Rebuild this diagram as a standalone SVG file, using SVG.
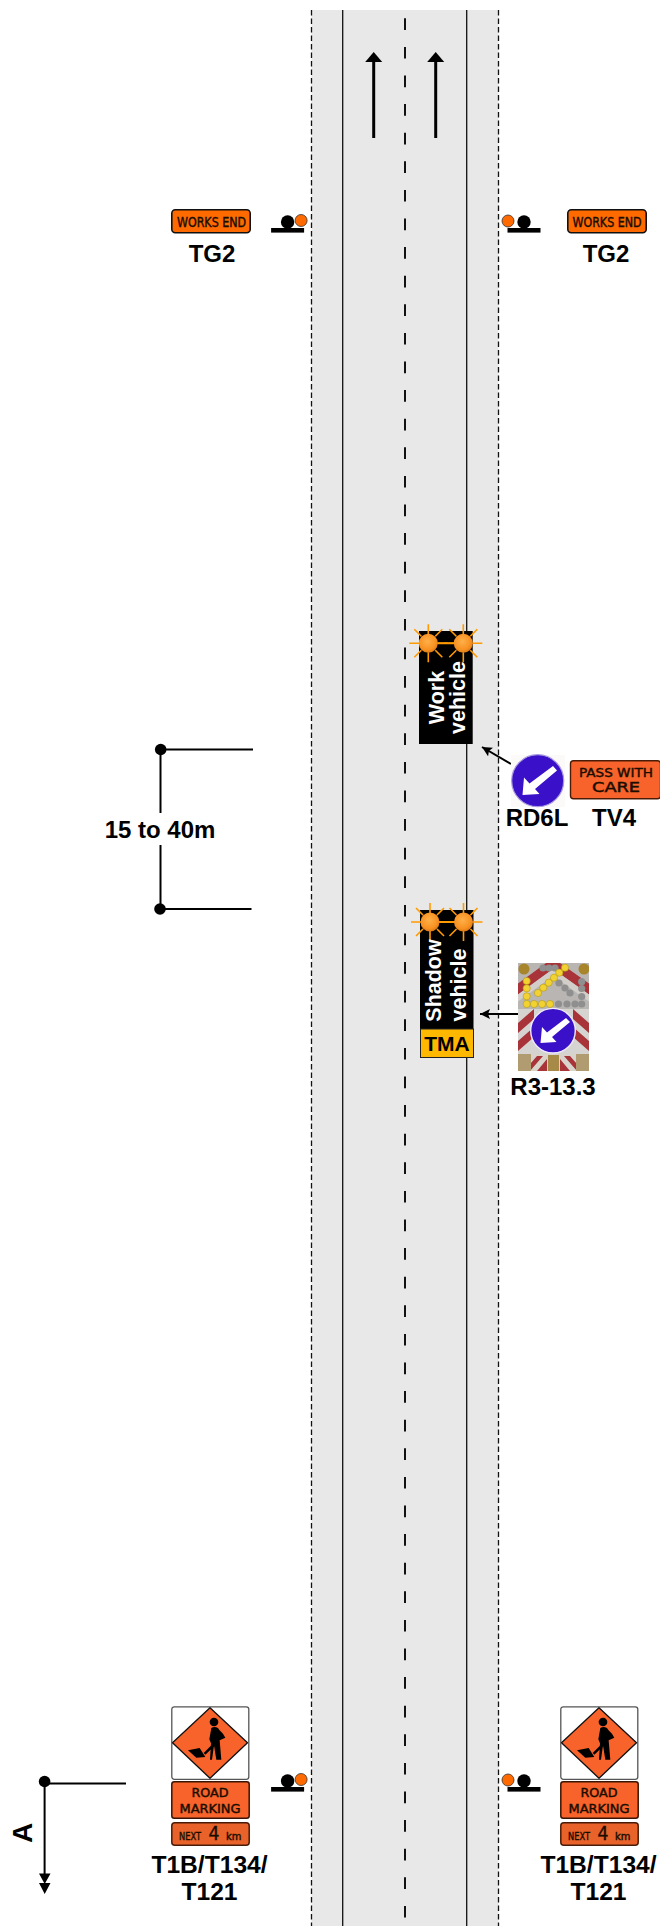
<svg xmlns="http://www.w3.org/2000/svg" xmlns:xlink="http://www.w3.org/1999/xlink" width="660" height="1926" viewBox="0 0 660 1926">
<style>
text{font-family:"Liberation Sans",Arial,sans-serif;fill:#000}
.lb{font-size:24px;font-weight:bold;text-anchor:middle}
.lc{font-size:24.6px;font-weight:bold;text-anchor:middle}
.vt{font-size:21.5px;font-weight:bold;text-anchor:middle;fill:#fff}
.sg{font-family:"DejaVu Sans Condensed","Liberation Sans",sans-serif;text-anchor:middle;fill:#1a0d00;stroke:#1a0d00;stroke-width:.4}
.wire{fill:none;stroke:#000;stroke-width:2}
.road{fill:none;stroke:#111;stroke-width:1.3}
.dash{stroke-dasharray:5.5 3}
.ray{stroke:#ff9a00;stroke-width:1.6}
.orange{fill:#f7632a;stroke:#3a1505;stroke-width:1.5}
</style>
<defs>
<radialGradient id="glow" cx="0.45" cy="0.4" r="0.65"><stop offset="0" stop-color="#ffb04a"/><stop offset="0.7" stop-color="#f79020"/><stop offset="1" stop-color="#d07014"/></radialGradient>
<marker id="tip" markerUnits="userSpaceOnUse" markerWidth="11" markerHeight="10" refX="10" refY="5" orient="auto"><path d="M0 0 10 5 0 10 2 5Z" fill="#000"/></marker>
<g id="light">
<path class="ray" d="M-19 0H-9M9 0H19M0-19V-9M0 9V19M-14-14-7-7M14-14 7-7M-14 14-7 7M14 14 7 7"/>
<circle r="9.5" fill="url(#glow)"/>
</g>
<g id="coneL"><rect x="-16.5" y="6" width="33" height="4.6" fill="#000"/><circle cy="0" r="6.7" fill="#000"/><circle cx="13.5" cy="-1.5" r="6" fill="#ff6a00" stroke="#333" stroke-width="0.8"/></g>
<g id="coneR"><rect x="-16.5" y="6" width="33" height="4.6" fill="#000"/><circle cy="0" r="6.7" fill="#000"/><circle cx="-16" cy="-1" r="6" fill="#ff6a00" stroke="#333" stroke-width="0.8"/></g>
<g id="worksend"><rect x="0.8" y="0.8" width="78.4" height="23" rx="3.5" fill="#ff6a00" stroke="#111" stroke-width="1.6"/></g>
<g id="t1b">
<rect x="0.8" y="0.8" width="77" height="72.5" rx="2.5" fill="#fff" stroke="#555" stroke-width="1.3"/>
<path d="M39 1.8 76.5 36.8 39 72.2 1.5 36.8Z" fill="#f7632a" stroke="#111" stroke-width="1.3" stroke-linejoin="round"/>
<g transform="translate(-21,-50) scale(.3333)" fill="#000">
<circle cx="192" cy="198" r="13"/>
<path d="M184 216C192 211 205 213 208 222L219 233 226 245 209 253 214 311H199L192 268 186 311H180L183 262 178 250Z"/>
<path d="M198 254 204 260 166 296 161 291Z"/>
<path d="M114 283 149 276 166 303 139 305Z"/>
</g>
</g>
<g id="rm"><rect x="0.8" y="0.8" width="77.4" height="36.5" rx="2.5" class="orange"/></g>
<g id="next"><rect x="0.8" y="0.8" width="77.4" height="22.5" rx="3" fill="#e8622a" stroke="#4a1c08" stroke-width="1.5"/></g>
<clipPath id="boardClip"><rect x="518" y="963" width="71" height="108"/></clipPath>
</defs>

<g id="road">
<rect x="311.5" y="10" width="187" height="1916" fill="#e8e8e8"/>
<path class="road dash" d="M311.5 10V1926M498.5 10V1926"/>
<path class="road" d="M342.7 10V1926M466.7 10V1926"/>
<path d="M405 18.3V1926" fill="none" stroke="#111" stroke-width="2" stroke-dasharray="11.7 16.9"/>
</g>

<g id="connectors">
<g id="traffic-arrow-1"><path d="M373.7 62V138" class="wire" style="stroke-width:3"/><path d="M373.7 52 382.2 62H365.2Z" fill="#000"/></g>
<g id="traffic-arrow-2"><path d="M435.7 62V138" class="wire" style="stroke-width:3"/><path d="M435.7 52 444.2 62H427.2Z" fill="#000"/></g>
<path id="rd6l-arrow" d="M511 764 482 747" class="wire" marker-end="url(#tip)"/>
<path id="r3-arrow" d="M519 1014H480" class="wire" marker-end="url(#tip)"/>
<path id="dim-top" d="M160.5 749.5H253" class="wire"/>
<path id="dim-bottom" d="M160 909H251.5" class="wire"/>
<path id="dim-v1" d="M160.5 749.5V813" class="wire"/>
<path id="dim-v2" d="M160.5 845V909" class="wire"/>
<circle cx="160.7" cy="749.5" r="5.8" fill="#000"/>
<circle cx="160" cy="909" r="5.8" fill="#000"/>
<path id="section-h" d="M44.6 1783.5H126" class="wire"/>
<path id="section-v" d="M44.6 1783.5V1880" class="wire"/>
<circle cx="44.6" cy="1781.5" r="5.8" fill="#000"/>
<path d="M39 1873.5H50.5L44.7 1884ZM39 1883H50.5L44.7 1894Z" fill="#000"/>
</g>

<g id="cone-tl"><use xlink:href="#coneL" href="#coneL" x="287.6" y="222"/></g>
<g id="cone-tr"><use xlink:href="#coneR" href="#coneR" x="524" y="222"/></g>
<g id="cone-bl"><use xlink:href="#coneL" href="#coneL" x="287.6" y="1781"/></g>
<g id="cone-br"><use xlink:href="#coneR" href="#coneR" x="524" y="1781"/></g>

<g id="tg2-left">
<use xlink:href="#worksend" href="#worksend" x="171" y="209"/>
<text class="sg" x="211.5" y="226.7" font-size="13.5" textLength="69" lengthAdjust="spacingAndGlyphs">WORKS END</text>
<text class="lb" x="212" y="262">TG2</text>
</g>
<g id="tg2-right">
<use xlink:href="#worksend" href="#worksend" x="567" y="209"/>
<text class="sg" x="607" y="226.7" font-size="13.5" textLength="69" lengthAdjust="spacingAndGlyphs">WORKS END</text>
<text class="lb" x="606" y="262">TG2</text>
</g>

<g id="work-vehicle">
<rect x="419" y="631" width="53.7" height="113" fill="#000"/>
<path d="M428 643.3H463" stroke="#ff9a00" stroke-width="2"/>
<use xlink:href="#light" href="#light" x="428.3" y="643.3"/>
<use xlink:href="#light" href="#light" x="463.3" y="643.3"/>
<text class="vt" transform="translate(443.5,697.5) rotate(-90)">Work</text>
<text class="vt" transform="translate(464.5,697.5) rotate(-90)">vehicle</text>
</g>

<g id="rd6l">
<rect x="511" y="755" width="54" height="52" fill="#fbfaf8"/>
<circle cx="537.7" cy="780.7" r="26" fill="#3a10c8" stroke="#a89ae0" stroke-width="1.2"/>
<path d="M553 766 557 770.5 535 789 539.5 794 522.5 795 524 777.5 529.5 783.5Z" fill="#fff"/>
<text class="lb" x="537" y="826">RD6L</text>
</g>
<g id="tv4">
<rect x="570.5" y="760.7" width="90" height="38" rx="3" fill="#f7632a" stroke="#4a1c08" stroke-width="1.4"/>
<text class="sg" x="616" y="777" font-size="13" textLength="74" lengthAdjust="spacingAndGlyphs">PASS WITH</text>
<text class="sg" x="616" y="792" font-size="13.5" textLength="48" lengthAdjust="spacingAndGlyphs">CARE</text>
<text class="lb" x="614" y="826">TV4</text>
</g>

<g id="shadow-vehicle">
<rect x="420" y="910" width="53.5" height="119" fill="#000"/>
<rect x="420.5" y="1029" width="53" height="28.5" fill="#ffb800" stroke="#222" stroke-width="1"/>
<path d="M430 922H464" stroke="#ff9a00" stroke-width="2"/>
<use xlink:href="#light" href="#light" x="430" y="922"/>
<use xlink:href="#light" href="#light" x="463.5" y="922"/>
<text class="vt" transform="translate(440.7,980.5) rotate(-90)">Shadow</text>
<text class="vt" transform="translate(466,985) rotate(-90)">vehicle</text>
<text x="447" y="1051" text-anchor="middle" font-size="21" font-weight="bold">TMA</text>
</g>

<g id="r3-13-3">
<rect x="518" y="963" width="71" height="108" fill="#b9b5b2"/>
<g clip-path="url(#boardClip)">
<path d="M516 985 553 958 591 985V996L553 969 516 996Z" fill="#a8343a"/>
<path d="M516 996 553 969 591 996V1003L553 976 516 1003Z" fill="#d2cfcb"/>
<rect x="518" y="1009" width="71" height="45" fill="#d6d4d1"/>
<path d="M518 1023 534 1009V1019L518 1033ZM518 1041 534 1027V1037L518 1051ZM589 1023 573 1009V1019L589 1033ZM589 1041 573 1027V1037L589 1051Z" fill="#a8343a"/>
<rect x="518" y="1054" width="71" height="17" fill="#d8d4cc"/>
<path d="M524 1071 537 1056H543L530 1071ZM537 1071 547 1059V1071ZM583 1071 570 1056H564L577 1071ZM570 1071 560 1059V1071Z" fill="#a8343a"/>
<rect x="518" y="1054" width="13" height="17" fill="#b09c70"/>
<rect x="576" y="1054" width="13" height="17" fill="#b09c70"/>
<rect x="548" y="1055" width="11" height="16" fill="#a88a48"/>
<circle cx="524" cy="969" r="5.5" fill="#a8842a"/><circle cx="584" cy="969" r="5.5" fill="#a8842a"/>
</g>
<g fill="#8f8f8f"><circle cx="543" cy="968" r="3.6"/><circle cx="549" cy="968" r="3.6"/><circle cx="555" cy="968" r="3.6"/><circle cx="581.7" cy="981.7" r="3.6"/><circle cx="581.7" cy="988.5" r="3.6"/><circle cx="581.7" cy="996.5" r="3.6"/><circle cx="581.7" cy="1004" r="3.6"/><circle cx="575" cy="1004" r="3.6"/><circle cx="567" cy="1004" r="3.6"/><circle cx="558.5" cy="1004" r="3.6"/><circle cx="559" cy="983" r="3.6"/><circle cx="565" cy="988" r="3.6"/><circle cx="570" cy="993" r="3.6"/></g>
<g fill="#f2d232" stroke="#b59a10" stroke-width=".6"><circle cx="565" cy="967.7" r="3.6"/><circle cx="559.3" cy="972.7" r="3.6"/><circle cx="554" cy="977.7" r="3.6"/><circle cx="548.7" cy="982.7" r="3.6"/><circle cx="543.3" cy="987.7" r="3.6"/><circle cx="538" cy="993" r="3.6"/><circle cx="526.7" cy="981" r="3.6"/><circle cx="526.7" cy="988.3" r="3.6"/><circle cx="526.7" cy="996.3" r="3.6"/><circle cx="526.7" cy="1004" r="3.6"/><circle cx="534" cy="1004" r="3.6"/><circle cx="542" cy="1004" r="3.6"/><circle cx="550" cy="1004" r="3.6"/></g>
<circle cx="553" cy="1030.7" r="22.3" fill="#3a10c8" stroke="#eeeafc" stroke-width="1.4"/>
<path d="M566 1018 570 1022 552 1037 556.5 1042 540.5 1043 542 1027 547 1032.5Z" fill="#fff"/>
<text class="lb" x="553" y="1095">R3-13.3</text>
</g>

<g id="t1b-left">
<use xlink:href="#t1b" href="#t1b" x="171" y="1706"/>
<use xlink:href="#rm" href="#rm" x="171" y="1781"/>
<text class="sg" x="210" y="1797.3" font-size="12.5" textLength="37" lengthAdjust="spacingAndGlyphs">ROAD</text>
<text class="sg" x="210" y="1812.7" font-size="12.5" textLength="61" lengthAdjust="spacingAndGlyphs">MARKING</text>
<use xlink:href="#next" href="#next" x="171" y="1822"/>
<text class="sg" x="190" y="1840" font-size="11" textLength="22" lengthAdjust="spacingAndGlyphs">NEXT</text>
<text class="sg" x="214" y="1840" font-size="19">4</text>
<text class="sg" x="233.7" y="1840" font-size="11">km</text>
<text class="lc" x="209.5" y="1872.5">T1B/T134/</text>
<text class="lc" x="209.5" y="1900">T121</text>
</g>
<g id="t1b-right">
<use xlink:href="#t1b" href="#t1b" x="560" y="1706"/>
<use xlink:href="#rm" href="#rm" x="560" y="1781"/>
<text class="sg" x="599" y="1797.3" font-size="12.5" textLength="37" lengthAdjust="spacingAndGlyphs">ROAD</text>
<text class="sg" x="599" y="1812.7" font-size="12.5" textLength="61" lengthAdjust="spacingAndGlyphs">MARKING</text>
<use xlink:href="#next" href="#next" x="560" y="1822"/>
<text class="sg" x="579" y="1840" font-size="11" textLength="22" lengthAdjust="spacingAndGlyphs">NEXT</text>
<text class="sg" x="603" y="1840" font-size="19">4</text>
<text class="sg" x="622.7" y="1840" font-size="11">km</text>
<text class="lc" x="598.5" y="1872.5">T1B/T134/</text>
<text class="lc" x="598.5" y="1900">T121</text>
</g>

<g id="dimension-label"><text class="lb" x="160" y="837.5">15 to 40m</text></g>
<g id="section-label"><text transform="translate(32,1833) rotate(-90)" font-size="28" font-weight="bold" text-anchor="middle">A</text></g>
</svg>
